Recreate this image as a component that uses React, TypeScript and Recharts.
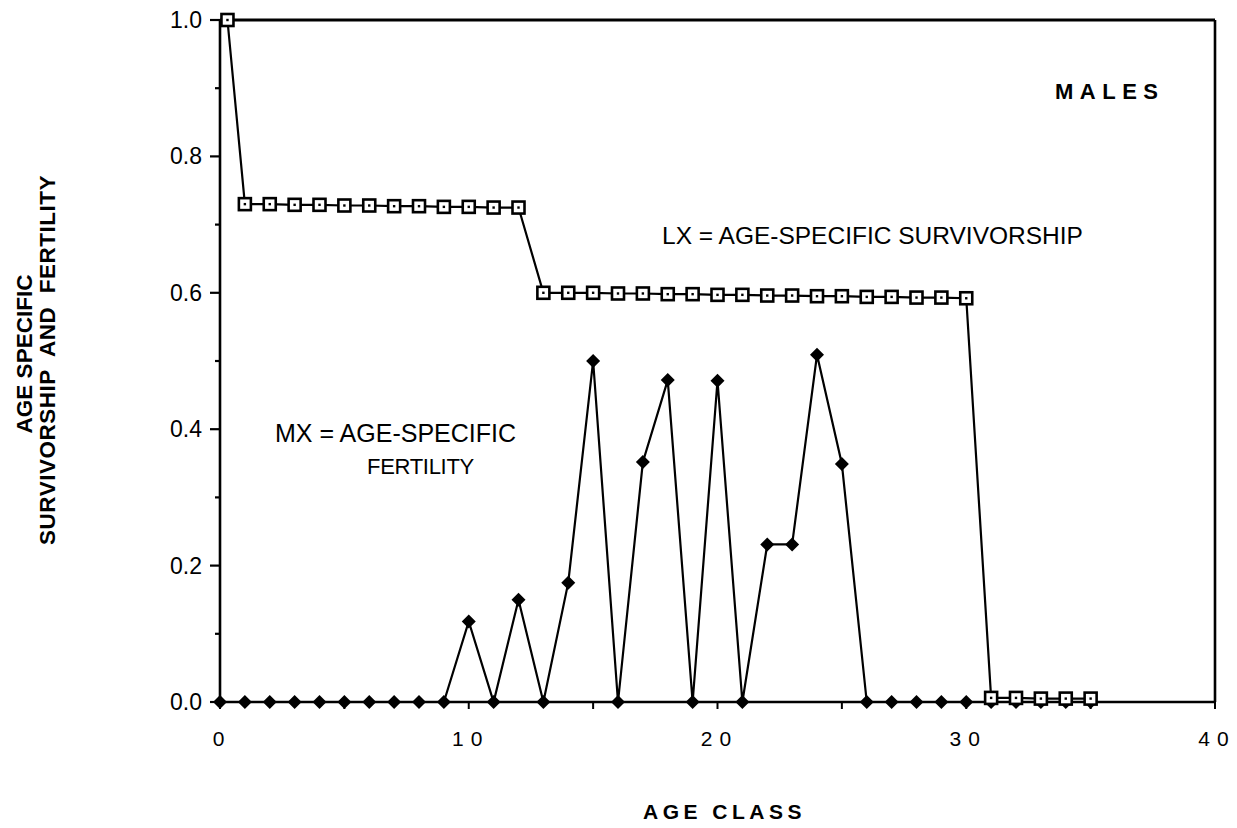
import { LineChart, Line, XAxis, YAxis, ReferenceLine } from "recharts";

// age-specific survivorship (LX) and fertility (MX), males
const lxAges = [0.3, 1, 2, 3, 4, 5, 6, 7, 8, 9, 10, 11, 12, 13, 14, 15, 16, 17, 18, 19, 20, 21, 22, 23, 24, 25, 26, 27, 28, 29, 30, 31, 32, 33, 34, 35];
const lxValues = [1.0, 0.73, 0.73, 0.729, 0.729, 0.728, 0.728, 0.727, 0.727, 0.726, 0.726, 0.725, 0.725, 0.6, 0.6, 0.6, 0.599, 0.599, 0.598, 0.598, 0.597, 0.597, 0.596, 0.596, 0.595, 0.595, 0.594, 0.594, 0.593, 0.593, 0.592, 0.006, 0.006, 0.005, 0.005, 0.005];
const mxAges = [0, 1, 2, 3, 4, 5, 6, 7, 8, 9, 10, 11, 12, 13, 14, 15, 16, 17, 18, 19, 20, 21, 22, 23, 24, 25, 26, 27, 28, 29, 30, 31, 32, 33, 34, 35];
const mxValues = [0, 0, 0, 0, 0, 0, 0, 0, 0, 0, 0.118, 0, 0.15, 0, 0.175, 0.5, 0, 0.352, 0.472, 0, 0.471, 0, 0.231, 0.231, 0.509, 0.349, 0, 0, 0, 0, 0, 0, 0, 0, 0, 0];
const xTicks = [0, 5, 10, 15, 20, 25, 30, 35, 40];
const yTicks = [0, 0.1, 0.2, 0.3, 0.4, 0.5, 0.6, 0.7, 0.8, 0.9, 1.0];

const lxData = lxAges.map((x, i) => ({ x, y: lxValues[i] }));
const mxData = mxAges.map((x, i) => ({ x, y: mxValues[i] }));

const FONT = '"Liberation Sans", Arial, Helvetica, sans-serif';
const Y_TICK_SIZE = 10;
const Y_TICK_MARGIN = 8;

function SquareDot(props: any) {
  const { cx, cy } = props;
  if (cx == null || cy == null) return null;
  return (
    <g>
      <rect x={cx - 6} y={cy - 6} width={12} height={12} fill="#fff" stroke="#000" strokeWidth={2.6} />
      <rect x={cx - 1.2} y={cy - 1.2} width={2.4} height={2.4} fill="#000" />
    </g>
  );
}

function DiamondDot(props: any) {
  const { cx, cy } = props;
  if (cx == null || cy == null) return null;
  const r = 7;
  return <polygon points={`${cx},${cy - r} ${cx + r},${cy} ${cx},${cy + r} ${cx - r},${cy}`} fill="#000" />;
}

function YTick(props: any) {
  const { x, y, payload } = props;
  const v = payload.value as number;
  const major = Math.round(v * 10) % 2 === 0;
  const axisX = x + Y_TICK_SIZE + Y_TICK_MARGIN;
  return (
    <g>
      <line x1={axisX - (major ? Y_TICK_SIZE : 5)} x2={axisX} y1={y} y2={y} stroke="#000" strokeWidth={2.2} />
      {major && (
        <text x={x} y={y} dy={8} textAnchor="end" fill="#000" fontSize={23} fontFamily={FONT}>
          {v.toFixed(1)}
        </text>
      )}
    </g>
  );
}

function XTick(props: any) {
  const { x, y, payload } = props;
  const v = payload.value as number;
  if (v % 10 !== 0) return null;
  return (
    <text x={x + 2} y={y} dy={27} textAnchor="middle" fill="#000" fontSize={21} fontFamily={FONT} letterSpacing={7}>
      {String(v)}
    </text>
  );
}

const txt: React.CSSProperties = {
  position: "absolute",
  fontFamily: FONT,
  fontSize: 24,
  color: "#000",
  whiteSpace: "pre",
  lineHeight: 1,
};

export default function App() {
  return (
    <div style={{ position: "absolute", left: 0, top: 0, width: 1237, height: 828, background: "#fff" }}>
      <LineChart width={1237} height={828} margin={{ top: 20, right: 22, bottom: 96, left: 150 }}>
        <XAxis
          dataKey="x"
          type="number"
          domain={[0, 40]}
          ticks={xTicks}
          interval={0}
          height={30}
          tickSize={7}
          tickMargin={10}
          axisLine={{ stroke: "#000", strokeWidth: 2.6 }}
          tickLine={{ stroke: "#000", strokeWidth: 2 }}
          tick={<XTick />}
        />
        <YAxis
          dataKey="y"
          type="number"
          domain={[0, 1]}
          ticks={yTicks}
          interval={0}
          width={70}
          tickSize={Y_TICK_SIZE}
          tickMargin={Y_TICK_MARGIN}
          axisLine={{ stroke: "#000", strokeWidth: 2.6 }}
          tickLine={false}
          tick={<YTick />}
        />
        <ReferenceLine y={1} stroke="#000" strokeWidth={2.8} />
        <ReferenceLine x={40} stroke="#000" strokeWidth={2.6} />
        <Line
          data={mxData}
          dataKey="y"
          stroke="#000"
          strokeWidth={2.2}
          dot={(p: any) => <DiamondDot {...p} key={`dm-${p.index}`} />}
          isAnimationActive={false}
        />
        <Line
          data={lxData}
          dataKey="y"
          stroke="#000"
          strokeWidth={2.2}
          dot={(p: any) => <SquareDot {...p} key={`sq-${p.index}`} />}
          isAnimationActive={false}
        />
      </LineChart>

      <div style={{ ...txt, left: 1055, top: 81, fontSize: 22, fontWeight: 700, letterSpacing: 6.5 }}>MALES</div>
      <div style={{ ...txt, left: 662, top: 224, fontSize: 24.5 }}>LX = AGE-SPECIFIC SURVIVORSHIP</div>
      <div style={{ ...txt, left: 275, top: 421, fontSize: 25 }}>MX = AGE-SPECIFIC</div>
      <div style={{ ...txt, left: 367, top: 456, fontSize: 22, letterSpacing: -0.3 }}>FERTILITY</div>
      <div style={{ ...txt, left: 643, top: 801, fontSize: 21, fontWeight: 700, letterSpacing: 4.5 }}>AGE CLASS</div>

      <div
        style={{
          ...txt,
          left: 25,
          top: 354,
          fontSize: 22.5,
          fontWeight: 700,
          transform: "translate(-50%, -50%) rotate(-90deg)",
        }}
      >
        AGE SPECIFIC
      </div>
      <div
        style={{
          ...txt,
          left: 48,
          top: 360,
          fontSize: 22.5,
          fontWeight: 700,
          letterSpacing: 0.5,
          transform: "translate(-50%, -50%) rotate(-90deg)",
        }}
      >
        {"SURVIVORSHIP  AND  FERTILITY"}
      </div>
    </div>
  );
}
